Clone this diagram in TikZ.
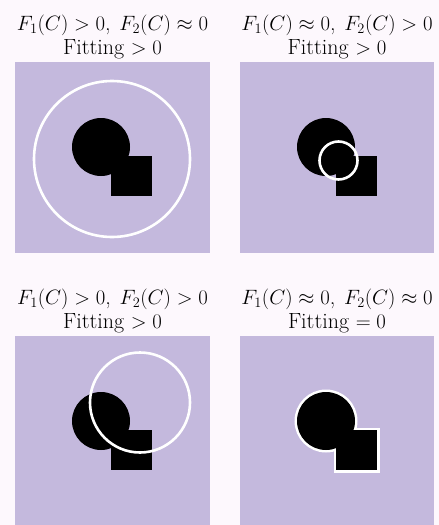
\documentclass[tikz,border=0pt]{standalone}
\definecolor{pagebg}{RGB}{253,248,253}
\definecolor{lav}{RGB}{196,185,221}
\tikzset{
  panel/.style={fill=lav},
  title/.style={anchor=base, inner sep=0pt, font=\fontsize{22}{23}\selectfont},
  contour/.style={draw=white, line width=2.6pt},
}
\newcommand\blobs[2]{%
  \fill[black] (#1+86,#2+85) circle (29);
  \fill[black] (#1+96,#2+94) rectangle (#1+137,#2+134);}
\newcommand\sep{,\hspace{0.4em}}
\begin{document}
\begin{tikzpicture}[x=1pt,y=-1pt]
\useasboundingbox (0,0) rectangle (439,525);
\fill[pagebg] (0,0) rectangle (439,525);
% panels
\fill[panel] (15,62) rectangle (210,253);
\fill[panel] (240,62) rectangle (434,253);
\fill[panel] (15,336) rectangle (210,525);
\fill[panel] (240,336) rectangle (434,525);
% titles
\node[title] (t1a) at (112.5,30.5) {$F_1(C)>0$\sep$F_2(C)\approx0$};
\node[title] (t1b) at (112.5,54.5) {Fitting $>0$};
\node[title] (t2a) at (337,30.5) {$F_1(C)\approx0$\sep$F_2(C)>0$};
\node[title] (t2b) at (337,54.5) {Fitting $>0$};
\node[title] (t3a) at (112.5,304.5) {$F_1(C)>0$\sep$F_2(C)>0$};
\node[title] (t3b) at (112.5,328.5) {Fitting $>0$};
\node[title] (t4a) at (337,304.5) {$F_1(C)\approx0$\sep$F_2(C)\approx0$};
\node[title] (t4b) at (337,328.5) {Fitting $=0$};
% panel 1
\blobs{15}{62}
\draw[contour] (112,159) circle (78);
% panel 2
\blobs{240}{62}
\draw[contour] (338.5,160.5) circle (19);
% panel 3
\blobs{15}{336}
\draw[contour] (140,402.5) circle (50);
% panel 4
\begin{scope}[line width=5pt]
\draw[white] (326,421) circle (29);
\draw[white, line join=miter] (336,430) rectangle (377,470);
\end{scope}
\blobs{240}{336}
\end{tikzpicture}
\end{document}
